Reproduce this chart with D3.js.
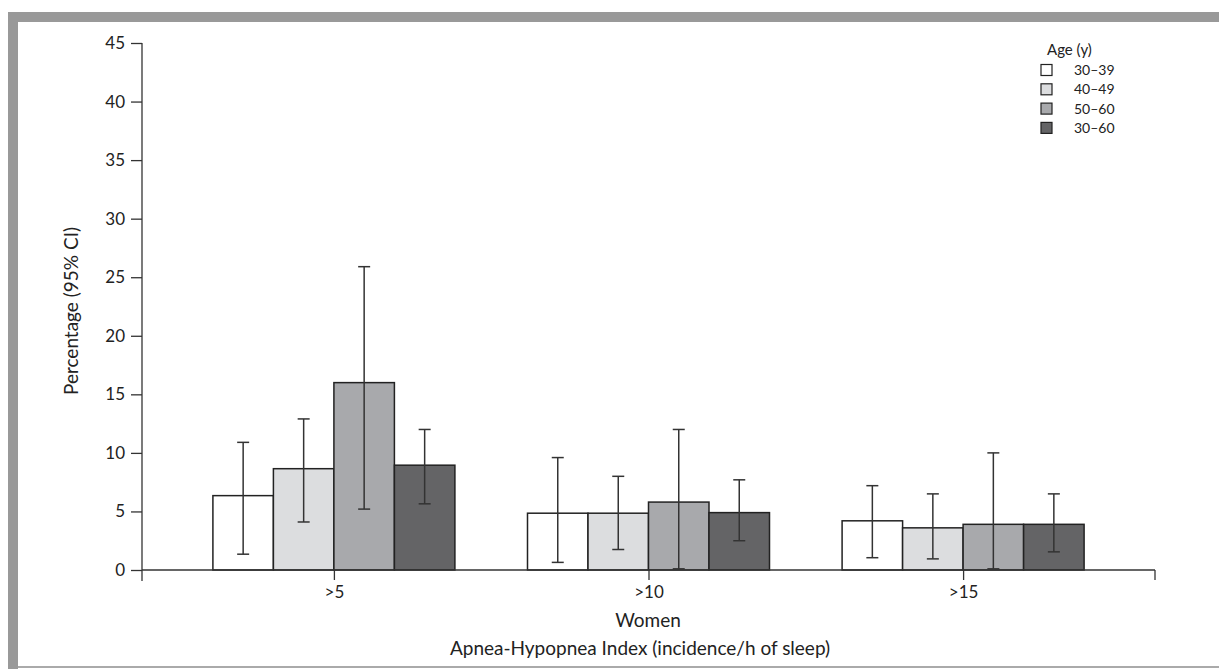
<!DOCTYPE html>
<html>
<head>
<meta charset="utf-8">
<script src="https://cdn.jsdelivr.net/npm/d3@7"></script>
<style>
  body { margin: 0; background: #fff; }
  svg { display: block; font-family: Lato, "Open Sans", sans-serif; }
</style>
</head>
<body>
<script>
// data
var categories = [">5", ">10", ">15"];
var ageGroups = ["30–39", "40–49", "50–60", "30–60"];
var yTicks = [0, 5, 10, 15, 20, 25, 30, 35, 40, 45];

var v3039 = [6.35, 4.85, 4.2];
var v4049 = [8.65, 4.85, 3.6];
var v5060 = [16.0, 5.8, 3.9];
var v3060 = [8.95, 4.9, 3.9];

var lo3039 = [1.35, 0.65, 1.05], hi3039 = [10.9, 9.6, 7.2];
var lo4049 = [4.1, 1.75, 0.95],  hi4049 = [12.9, 8.0, 6.5];
var lo5060 = [5.2, 0.1, 0.1],    hi5060 = [25.9, 12.0, 10.0];
var lo3060 = [5.65, 2.5, 1.55],  hi3060 = [12.0, 7.7, 6.5];

const WIDTH = 1219;
const HEIGHT = 669;
const fills = ["#ffffff", "#dcdddf", "#a8a9ac", "#646466"];

var series = [
  { name: ageGroups[0], v: v3039, lo: lo3039, hi: hi3039 },
  { name: ageGroups[1], v: v4049, lo: lo4049, hi: hi4049 },
  { name: ageGroups[2], v: v5060, lo: lo5060, hi: hi5060 },
  { name: ageGroups[3], v: v3060, lo: lo3060, hi: hi3060 }
];

var translate = function (x, y) {
  return "translate(" + x + "," + y + ")";
};

var svg = d3.select("body").append("svg")
  .attr("width", WIDTH)
  .attr("height", HEIGHT);

// grey frame
svg.append("rect").attr("x", 8).attr("y", 12).attr("width", WIDTH - 8).attr("height", 10).attr("fill", "#999");
svg.append("rect").attr("x", 8).attr("y", 12).attr("width", 10).attr("height", HEIGHT - 12).attr("fill", "#999");
svg.append("rect").attr("x", 18).attr("y", 666).attr("width", WIDTH - 18).attr("height", 2).attr("fill", "#aaa");

var x = d3.scalePoint().domain(categories).range([142, 1155]).padding(0.61);
var y = d3.scaleLinear().domain([0, 45]).range([570, 43]);
var inner = d3.scaleBand().domain(ageGroups).range([-121, 121]);

// bars
var groups = svg.append("g").selectAll("g")
  .data(series)
  .enter().append("g");

groups.each(function (s, si) {
  var g = d3.select(this);
  categories.forEach(function (c, ci) {
    var x0 = x(c) + inner(s.name);
    g.append("rect")
      .attr("x", x0)
      .attr("y", y(s.v[ci]))
      .attr("width", inner.bandwidth())
      .attr("height", y(0) - y(s.v[ci]))
      .attr("fill", fills[si])
      .attr("stroke", "#222")
      .attr("stroke-width", 1.5);
  });
});

// error bars
groups.each(function (s) {
  var g = d3.select(this);
  categories.forEach(function (c, ci) {
    var cx = x(c) + inner(s.name) + inner.bandwidth() / 2;
    g.append("line")
      .attr("x1", cx).attr("x2", cx)
      .attr("y1", y(s.lo[ci])).attr("y2", y(s.hi[ci]))
      .attr("stroke", "#333").attr("stroke-width", 1.5);
    [s.lo[ci], s.hi[ci]].forEach(function (val) {
      g.append("line")
        .attr("x1", cx - 6).attr("x2", cx + 6)
        .attr("y1", y(val)).attr("y2", y(val))
        .attr("stroke", "#333").attr("stroke-width", 1.5);
    });
  });
});

// axes
var yAxis = d3.axisLeft(y).tickValues(yTicks).tickSize(11).tickSizeOuter(0).tickPadding(6);
var yg = svg.append("g").attr("transform", translate(142, 0)).call(yAxis);
yg.select(".domain").remove();
yg.selectAll("line").attr("stroke", "#333").attr("stroke-width", 1.3);
yg.selectAll("text").attr("font-size", 17).attr("fill", "#222").attr("font-family", "Lato, sans-serif");

var xAxis = d3.axisBottom(x).tickSize(10).tickSizeOuter(0).tickPadding(6);
var xg = svg.append("g").attr("transform", translate(0, 570)).call(xAxis);
xg.select(".domain").remove();
xg.selectAll("line").attr("stroke", "#333").attr("stroke-width", 1.3);
xg.selectAll("text").attr("font-size", 17).attr("fill", "#222").attr("font-family", "Lato, sans-serif");

svg.append("line").attr("x1", 142).attr("x2", 142).attr("y1", 43).attr("y2", 581)
  .attr("stroke", "#333").attr("stroke-width", 1.3);
svg.append("line").attr("x1", 142).attr("x2", 1155).attr("y1", 570).attr("y2", 570)
  .attr("stroke", "#333").attr("stroke-width", 1.3);
svg.append("line").attr("x1", 1155).attr("x2", 1155).attr("y1", 570).attr("y2", 580)
  .attr("stroke", "#333").attr("stroke-width", 1.3);

// titles
svg.append("text")
  .attr("transform", translate(78, 311) + " rotate(-90)")
  .attr("text-anchor", "middle")
  .attr("font-size", 19).attr("fill", "#222")
  .text("Percentage (95% CI)");

svg.append("text")
  .attr("x", 648).attr("y", 627)
  .attr("text-anchor", "middle")
  .attr("font-size", 19).attr("fill", "#222")
  .text("Women");

svg.append("text")
  .attr("x", 640).attr("y", 655)
  .attr("text-anchor", "middle")
  .attr("font-size", 19).attr("fill", "#222")
  .text("Apnea-Hypopnea Index (incidence/h of sleep)");

// legend
var legend = svg.append("g").attr("transform", translate(1041, 0));
legend.append("text").attr("x", 6).attr("y", 55)
  .attr("font-size", 15).attr("fill", "#222").text("Age (y)");

var rows = legend.selectAll(".row").data(series).enter().append("g")
  .attr("class", "row")
  .attr("transform", function (d, i) { return translate(0, 70 + i * 19.3); });
rows.append("rect").attr("x", 0).attr("y", -5.5).attr("width", 11).attr("height", 11)
  .attr("fill", function (d, i) { return fills[i]; })
  .attr("stroke", "#222").attr("stroke-width", 1.2);
rows.append("text").attr("x", 33).attr("y", 5)
  .attr("font-size", 14).attr("fill", "#222")
  .text(function (d) { return d.name; });
</script>
</body>
</html>
